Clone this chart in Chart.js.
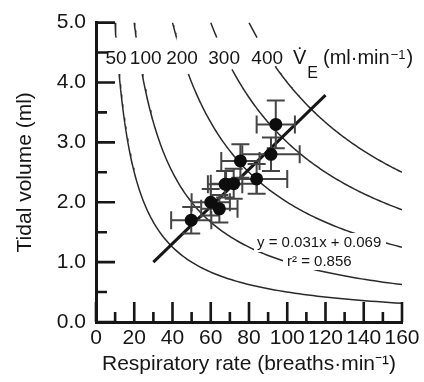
<!DOCTYPE html>
<html><head><meta charset="utf-8">
<script src="https://cdn.jsdelivr.net/npm/chart.js@4/dist/chart.umd.min.js"></script>
<style>html,body{margin:0;padding:0;background:#fff}</style>
</head><body>
<canvas id="c" width="424" height="382"></canvas>
<script>
// ---- data ----
const rateX     = [94, 91.5, 75.5, 84, 72, 67.5, 60, 64.5, 49.8];
const volumeY   = [3.30, 2.80, 2.69, 2.39, 2.31, 2.30, 2.00, 1.89, 1.70];
const rateErr   = [10, 15, 10, 16, 12, 9, 10, 9.5, 10.5];
const volumeErr = [0.40, 0.28, 0.28, 0.25, 0.25, 0.22, 0.22, 0.23, 0.22];
const isoVE     = [50, 100, 200, 300, 400];
const isoLabels = ['50', '100', '200', '300', '400'];
const fitSlope = 0.031, fitIntercept = 0.069;
const fitRange = [30, 120];
const xTicks = [0, 20, 40, 60, 80, 100, 120, 140, 160];
const xTickLabels = ['0', '20', '40', '60', '80', '100', '120', '140', '160'];
const yTicks = [0, 1, 2, 3, 4, 5];
const yTickLabels = ['0.0', '1.0', '2.0', '3.0', '4.0', '5.0'];
const equationText = 'y = 0.031x + 0.069';
const r2Text = 'r\u00B2 = 0.856';

// ---- layout / style (not data) ----
const FONT = "'Liberation Sans', Arial, Helvetica, sans-serif";
const INK = '#161616';
const isoTopBand = [4.75, 5.0];
const isoResume = [4.14, 4.14, 4.14, 4.22, 4.27];
const isoLabelX = [10.5, 26, 45, 67, 89.5];
const isoLabelY = 4.47;

function isoSegment(ve, yHigh, yLow, n) {
  const pts = [];
  const x0 = ve / yHigh, x1 = Math.min(160, ve / yLow);
  for (let i = 0; i <= n; i++) {
    const x = x0 * Math.pow(x1 / x0, i / n);
    pts.push({x: x, y: ve / x});
  }
  return pts;
}

const datasets = [];
datasets.push({
  label: 'points', type: 'scatter',
  data: rateX.map((x, i) => ({x: x, y: volumeY[i]})),
  pointRadius: 6.5, pointBackgroundColor: '#0d0d0d', pointBorderWidth: 0, showLine: false
});
datasets.push({
  label: 'fit', type: 'scatter', showLine: true,
  data: fitRange.map(x => ({x: x, y: fitSlope * x + fitIntercept})),
  borderColor: INK, borderWidth: 3, pointRadius: 0
});
isoVE.forEach((ve, k) => {
  datasets.push({type: 'scatter', showLine: true, data: isoSegment(ve, isoTopBand[1], isoTopBand[0], 6),
    borderColor: '#2a2a2a', borderWidth: 1.5, pointRadius: 0});
  datasets.push({type: 'scatter', showLine: true, data: isoSegment(ve, isoResume[k], 0.0001, 120),
    borderColor: '#2a2a2a', borderWidth: 1.5, pointRadius: 0});
});

const errorBars = {
  id: 'errorBars',
  beforeDatasetDraw(chart, args) {
    if (args.index !== 0) return;
    const xs = chart.scales.x, ys = chart.scales.y, ctx = chart.ctx;
    ctx.save();
    ctx.strokeStyle = '#444'; ctx.lineWidth = 2;
    const cap = 9;
    rateX.forEach((x, i) => {
      const px = xs.getPixelForValue(x), py = ys.getPixelForValue(volumeY[i]);
      const xl = xs.getPixelForValue(x - rateErr[i]), xr = xs.getPixelForValue(x + rateErr[i]);
      const yt = ys.getPixelForValue(volumeY[i] + volumeErr[i]), yb = ys.getPixelForValue(volumeY[i] - volumeErr[i]);
      ctx.beginPath();
      ctx.moveTo(xl, py); ctx.lineTo(xr, py);
      ctx.moveTo(xl, py - cap); ctx.lineTo(xl, py + cap);
      ctx.moveTo(xr, py - cap); ctx.lineTo(xr, py + cap);
      ctx.moveTo(px, yt); ctx.lineTo(px, yb);
      ctx.moveTo(px - cap, yt); ctx.lineTo(px + cap, yt);
      ctx.moveTo(px - cap, yb); ctx.lineTo(px + cap, yb);
      ctx.stroke();
    });
    ctx.restore();
  }
};

const decorations = {
  id: 'decorations',
  afterDatasetsDraw(chart) {
    const xs = chart.scales.x, ys = chart.scales.y, ctx = chart.ctx;
    const a = chart.chartArea;
    ctx.save();
    ctx.strokeStyle = INK; ctx.lineWidth = 2.6; ctx.lineCap = 'butt';
    ctx.beginPath();
    xTicks.forEach((v, i) => {
      const p = xs.getPixelForValue(v);
      ctx.moveTo(p, a.bottom); ctx.lineTo(p, a.bottom - 20);
      if (i < xTicks.length - 1) {
        const m = xs.getPixelForValue((v + xTicks[i + 1]) / 2);
        ctx.moveTo(m, a.bottom); ctx.lineTo(m, a.bottom - 10);
      }
    });
    yTicks.forEach((v, i) => {
      const p = ys.getPixelForValue(v);
      ctx.moveTo(a.left, p); ctx.lineTo(a.left + 19, p);
      if (i < yTicks.length - 1) {
        const m = ys.getPixelForValue((v + yTicks[i + 1]) / 2);
        ctx.moveTo(a.left, m); ctx.lineTo(a.left + 11, m);
      }
    });
    ctx.stroke();

    ctx.fillStyle = INK;
    ctx.font = '19px ' + FONT;
    ctx.textAlign = 'center'; ctx.textBaseline = 'alphabetic';
    const rowBase = ys.getPixelForValue(isoLabelY) + 9.5;
    isoLabels.forEach((t, i) => ctx.fillText(t, xs.getPixelForValue(isoLabelX[i]), rowBase));
    ctx.textAlign = 'left';
    let cx = 293;
    ctx.font = '20px ' + FONT;
    ctx.fillText('V\u0307', cx, rowBase);
    cx += ctx.measureText('V').width;
    ctx.font = '16px ' + FONT;
    ctx.fillText('E', cx + 1, rowBase + 14);
    cx += ctx.measureText('E').width + 6;
    ctx.font = '20px ' + FONT;
    ctx.fillText('(ml\u00B7min', cx, rowBase);
    cx += ctx.measureText('(ml\u00B7min').width + 1;
    ctx.font = '13px ' + FONT;
    ctx.fillText('\u22121', cx, rowBase - 5);
    cx += ctx.measureText('\u22121').width + 1;
    ctx.font = '20px ' + FONT;
    ctx.fillText(')', cx, rowBase);

    ctx.fillStyle = '#fff';
    ctx.fillRect(254, 233, 132, 19);
    ctx.fillRect(283, 252, 76, 18);
    ctx.fillStyle = INK;
    ctx.font = '15px ' + FONT;
    ctx.textAlign = 'left';
    ctx.fillText(equationText, 257, 247);
    ctx.fillText(r2Text, 287, 266);
    ctx.restore();
  }
};

new Chart(document.getElementById('c'), {
  type: 'scatter',
  data: {datasets: datasets},
  options: {
    responsive: false, animation: false, devicePixelRatio: 1,
    layout: {padding: {top: 15, right: 22, bottom: 0, left: 0}},
    plugins: {legend: {display: false}, tooltip: {enabled: false}},
    scales: {
      x: {
        type: 'linear', min: 0, max: 160,
        afterBuildTicks: s => { s.ticks = xTicks.map(v => ({value: v})); },
        afterFit: s => { s.height = 60; },
        ticks: {callback: v => xTickLabels[xTicks.indexOf(v)], font: {size: 21, family: FONT}, color: INK, padding: 4, maxRotation: 0, autoSkip: false},
        grid: {display: false, drawTicks: false},
        border: {display: true, width: 3, color: INK},
        title: {display: true, text: 'Respiratory rate (breaths\u00B7min\u207B\u00B9)', font: {size: 21, family: FONT}, color: INK, padding: {top: 0, bottom: 5}}
      },
      y: {
        type: 'linear', min: 0, max: 5,
        afterBuildTicks: s => { s.ticks = yTicks.map(v => ({value: v})); },
        afterFit: s => { s.width = 96; },
        ticks: {callback: v => yTickLabels[yTicks.indexOf(v)], font: {size: 21, family: FONT}, color: INK, padding: 10, autoSkip: false},
        grid: {display: false, drawTicks: false},
        border: {display: true, width: 3, color: INK},
        title: {display: true, text: 'Tidal volume (ml)', font: {size: 21, family: FONT}, color: INK, padding: {top: 13, bottom: 0}}
      }
    }
  },
  plugins: [errorBars, decorations]
});
</script>
</body></html>
